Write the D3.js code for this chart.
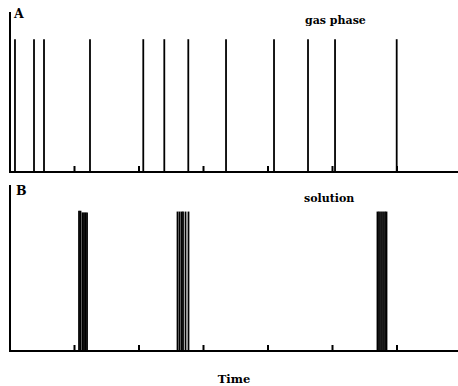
<!DOCTYPE html>
<html>
<head>
<meta charset="utf-8">
<script src="https://cdn.jsdelivr.net/npm/d3@7"></script>
<style>
  body { margin: 0; background: #fff; }
  text { font-family: "DejaVu Serif", "Liberation Serif", serif; font-weight: bold; fill: #000; }
</style>
</head>
<body>
<svg id="chart" width="458" height="386"></svg>
<script>
// event times (arbitrary time units) and relative heights
const gasTimes   = [0.085, 0.38, 0.535, 1.248, 2.074, 2.40, 2.772, 3.357, 4.101, 4.628, 5.047, 6.003];
const gasHeights = [0.83, 0.83, 0.83, 0.83, 0.83, 0.83, 0.83, 0.83, 0.83, 0.83, 0.83, 0.83];

const solTimes   = [1.078, 1.101, 1.132, 1.155, 1.178, 1.202,
                    2.605, 2.636, 2.667, 2.690, 2.729, 2.775,
                    5.705, 5.729, 5.760, 5.791, 5.822, 5.845];
const solHeights = [0.845, 0.845, 0.835, 0.835, 0.835, 0.835,
                    0.84, 0.84, 0.84, 0.84, 0.84, 0.84,
                    0.84, 0.84, 0.84, 0.84, 0.84, 0.84];

const tickValues = [1, 2, 3, 4, 5, 6];
const panelLabels = ["A", "B"];
const seriesLabels = ["gas phase", "solution"];
const xTitle = "Time";

const svg = d3.select("#chart");

// shared time scale
const x = d3.scaleLinear().domain([0, 7]).range([9.5, 461]);

const panels = [
  { times: gasTimes, heights: gasHeights, top: 12, bottom: 172, lx: 14, ly: 18, sx: 305, sy: 24 },
  { times: solTimes, heights: solHeights, top: 185, bottom: 351, lx: 16, ly: 195, sx: 304, sy: 202 }
];

panels.forEach((p, k) => {
  const y = d3.scaleLinear().domain([0, 1]).range([p.bottom, p.top]);
  const g = svg.append("g");

  // spikes
  g.selectAll("line.spike")
    .data(d3.zip(p.times, p.heights))
    .join("line")
    .attr("class", "spike")
    .attr("x1", d => x(d[0])).attr("x2", d => x(d[0]))
    .attr("y1", y(0)).attr("y2", d => y(d[1]))
    .attr("stroke", "#000").attr("stroke-width", 1.8);

  // x axis: ticks pointing up, no labels
  const ax = d3.axisTop(x).tickValues(tickValues).tickSize(6).tickFormat("");
  const axg = g.append("g").attr("transform", `translate(0,${p.bottom})`).call(ax);
  axg.select(".domain").remove();
  axg.selectAll(".tick line").attr("stroke", "#000").attr("stroke-width", 2);
  g.append("line")
    .attr("x1", 9).attr("x2", 458)
    .attr("y1", p.bottom).attr("y2", p.bottom)
    .attr("stroke", "#000").attr("stroke-width", 2);

  // y axis line
  g.append("line")
    .attr("x1", 10).attr("x2", 10)
    .attr("y1", p.top).attr("y2", p.bottom + 1)
    .attr("stroke", "#000").attr("stroke-width", 2);

  g.append("text").attr("x", p.lx).attr("y", p.ly)
    .attr("font-size", 12.5).text(panelLabels[k]);
  g.append("text").attr("x", p.sx).attr("y", p.sy)
    .attr("font-size", 11).text(seriesLabels[k]);
});

svg.append("text")
  .attr("x", 234).attr("y", 383)
  .attr("text-anchor", "middle")
  .attr("font-size", 11.5)
  .text(xTitle);
</script>
</body>
</html>
